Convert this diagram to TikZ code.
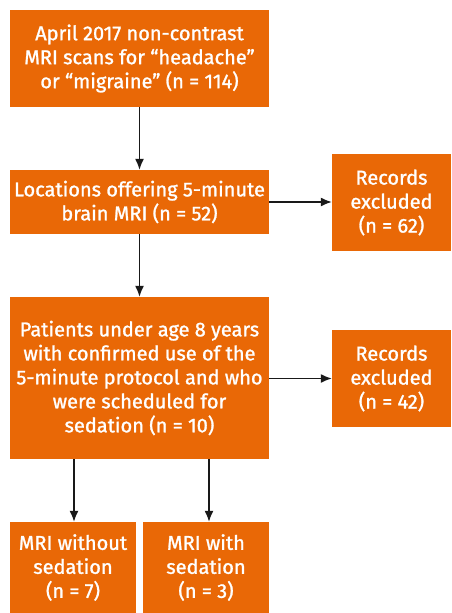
\documentclass[tikz,border=0pt]{standalone}
\usepackage{fontspec}
\setmainfont{Fira Sans}
\newfontfamily\medfont{Fira Sans}[FakeBold=1.3]
\usetikzlibrary{arrows.meta}
\definecolor{boxor}{RGB}{233,104,6}
\definecolor{arr}{RGB}{25,25,25}
\tikzset{
  box/.style={fill=boxor, draw=none, text=white, align=center, inner sep=0pt,
    font=\medfont\fontsize{20}{24}\selectfont},
  conn/.style={draw=arr, line width=1.4pt, -{Latex[length=11pt,width=9pt]}}
}
\begin{document}
\begin{tikzpicture}[x=1pt,y=-1pt]
\useasboundingbox (0,0) rectangle (452,613);
\node[box, minimum width=259pt, minimum height=97pt] (b1) at (139.5,58.5)
  {April 2017 non-contrast\\MRI scans for “headache”\\or “migraine” (n = 114)};
\node[box, minimum width=259pt, minimum height=64pt] (b2) at (139.5,202)
  {Locations offering 5-minute\\brain MRI (n = 52)};
\node[box, minimum width=119pt, minimum height=97pt] (r1) at (391.5,202.5)
  {Records\\excluded\\(n = 62)};
\node[box, minimum width=259pt, minimum height=162pt] (b3) at (139.5,378)
  {Patients under age 8 years\\with confirmed use of the\\5-minute protocol and who\\were scheduled for\\sedation (n = 10)};
\node[box, minimum width=119pt, minimum height=97pt] (r2) at (391.5,378.5)
  {Records\\excluded\\(n = 42)};
\node[box, minimum width=126pt, minimum height=91pt] (bl) at (73,567.5)
  {MRI without\\sedation\\(n = 7)};
\node[box, minimum width=126pt, minimum height=91pt] (br) at (206,567.5)
  {MRI with\\sedation\\(n = 3)};
\coordinate (cl) at (74,0);
\coordinate (cr) at (209,0);
\draw[conn] (b1) -- (b2);
\draw[conn] (b2) -- (b3);
\draw[conn] (b2.east) -- (r1.west |- b2.east);
\draw[conn] (b3.east |- r2.west) -- (r2.west);
\draw[conn] (b3.south -| cl) -- (bl.north -| cl);
\draw[conn] (b3.south -| cr) -- (br.north -| cr);
\end{tikzpicture}
\end{document}
